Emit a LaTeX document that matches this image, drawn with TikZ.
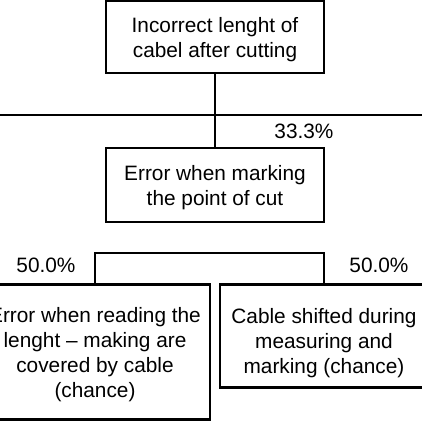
\documentclass[tikz,border=0pt]{standalone}
\usepackage{fontspec}
\setmainfont{Liberation Sans}
\begin{document}
\begin{tikzpicture}[
    x=0.025cm, y=-0.025cm,
    box/.style={rectangle, draw, line width=2pt, align=center, inner sep=0pt, font=\fontsize{14.8pt}{17.8pt}\selectfont},
    link/.style={line width=2pt},
    pct/.style={font=\fontsize{14.8pt}{17pt}\selectfont}
]
    \clip (0,0) rectangle (422,422);

    % top event and its cause
    \node[box, text height=32pt, minimum width=5.45cm, minimum height=1.8cm] (top) at (215, 37) {Incorrect lenght of\\cabel after cutting};
    \node[box, text height=32pt, minimum width=5.45cm, minimum height=1.85cm] (mark) at (215, 185) {Error when marking\\the point of cut};
    \coordinate (lineL) at (-5, 115);
    \coordinate (lineR) at (427, 115);
    \draw[link] (lineL) -- (lineR);
    \draw[link] (top) -- (mark);
    \node[pct] (p1) at (304, 131) {33.3\%};

    % lower causes
    \node[box, text height=68pt, minimum width=5.75cm, minimum height=3.375cm] (read) at (95, 352) {Error when reading the\\lenght -- making are\\covered by cable\\(chance)};
    \node[box, text height=57pt, minimum width=5.2cm, minimum height=2.575cm] (shift) at (324, 336) {Cable shifted during\\measuring and\\marking (chance)};
    \coordinate (bar) at (215, 253);
    \draw[link] (read.north) |- (bar) -| (shift.north);
    \node[pct] (p2) at (46, 265) {50.0\%};
    \node[pct] (p3) at (379, 265) {50.0\%};
\end{tikzpicture}
\end{document}
